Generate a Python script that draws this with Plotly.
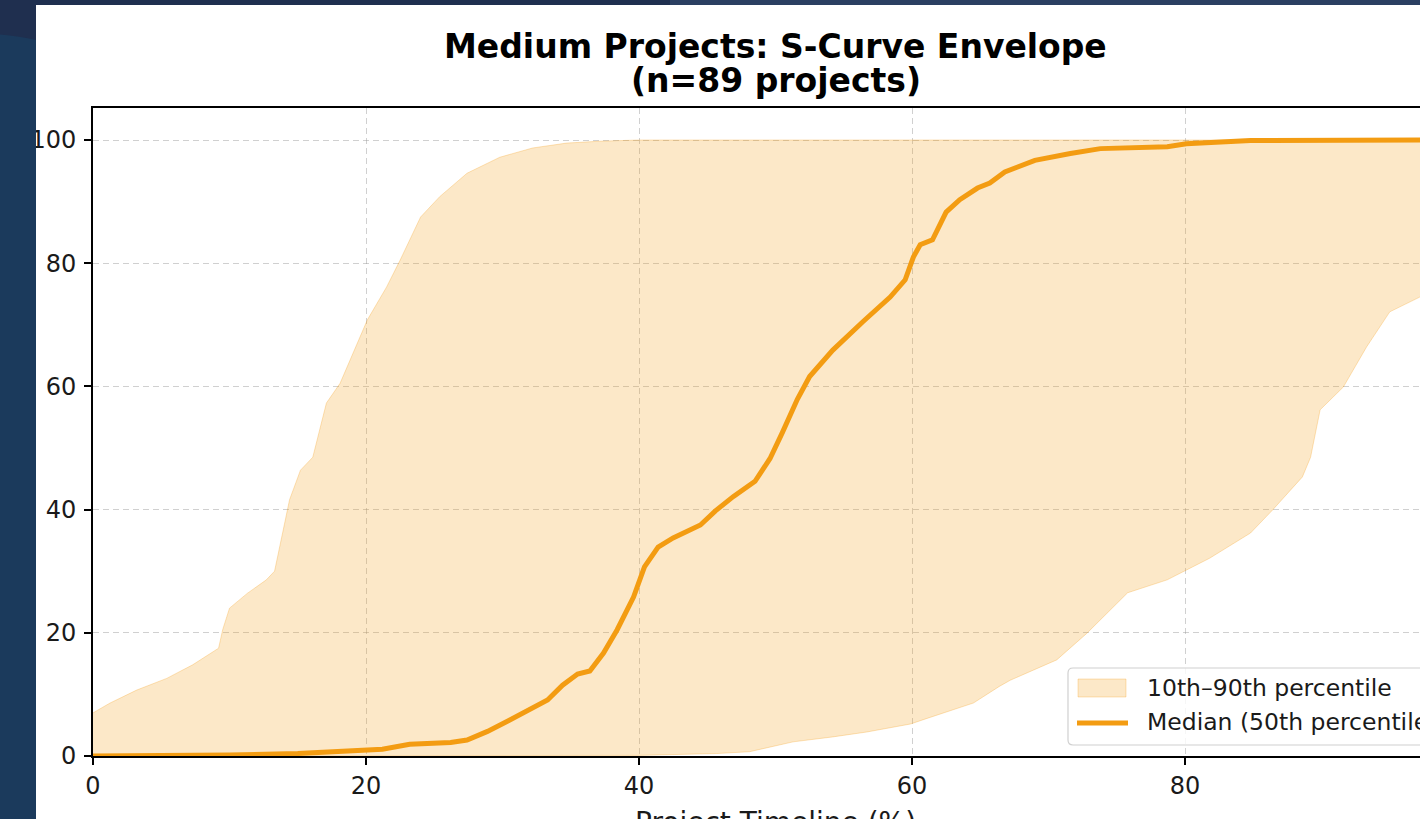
import plotly.graph_objects as go

# Timeline positions (% of project) and cumulative progress (%) for each curve
median_x = [0, 5, 10, 15, 20, 21.2, 23.2, 26.2, 27.4, 28.9, 30.5, 32.2, 33.3, 34.4, 35.5,
            36.4, 37.4, 38.4, 39.6, 40.4, 41.4, 42.5, 44.5, 45.6, 46.9, 48.5, 49.6, 50.5,
            51.6, 52.5, 54.2, 56.4, 58.4, 59.5, 60.1, 60.6, 61.5, 62.5, 63.5, 64.8, 65.7,
            66.8, 67.9, 69.0, 71.6, 73.8, 78.7, 80.1, 84.8, 90, 100]
median_y = [0, 0.05, 0.15, 0.4, 1.0, 1.1, 1.9, 2.2, 2.6, 4.0, 5.8, 7.8, 9.1, 11.5, 13.3,
            13.8, 16.7, 20.5, 25.8, 30.7, 33.9, 35.4, 37.5, 39.8, 42.1, 44.6, 48.3, 52.5,
            57.9, 61.6, 65.9, 70.5, 74.5, 77.3, 81.0, 83.0, 83.8, 88.3, 90.3, 92.2, 93.0,
            94.8, 95.8, 96.7, 97.8, 98.6, 98.9, 99.4, 99.9, 100, 100]

p90_x = [0, 1.25, 3.2, 5.4, 7.3, 9.2, 9.5, 10.0, 11.3, 12.7, 13.3, 14.4, 15.2, 16.1, 17.1,
         18.1, 20.1, 21.5, 22.5, 24.0, 25.4, 27.4, 29.8, 32.2, 34.7, 37.1, 40, 100]
p90_y = [7.0, 8.6, 10.7, 12.6, 14.8, 17.5, 20.5, 24.0, 26.4, 28.6, 30.0, 41.6, 46.4, 48.5,
         57.3, 60.5, 70.8, 76.1, 80.5, 87.5, 90.8, 94.6, 97.2, 98.7, 99.5, 99.8, 100, 100]

p10_x = [0, 40, 45.7, 48.1, 49.4, 51.3, 54.2, 56.7, 59.9, 61.1, 64.5, 66.4, 67.2, 70.6,
         72.8, 75.8, 78.7, 81.8, 84.8, 86.4, 88.6, 89.2, 89.9, 91.6, 93.3, 95.0, 97.2, 100]
p10_y = [0, 0.1, 0.4, 0.7, 1.3, 2.3, 3.1, 3.9, 5.2, 6.1, 8.6, 11.3, 12.3, 15.6, 19.9, 26.5,
         28.6, 32.1, 36.2, 39.9, 45.3, 48.5, 56.2, 59.9, 66.4, 72.1, 74.5, 77.0]

x_ticks = [0, 20, 40, 60, 80, 100]
y_ticks = [0, 20, 40, 60, 80, 100]

TITLE = "Medium Projects: S-Curve Envelope"
SUBTITLE = "(n=89 projects)"
X_LABEL = "Project Timeline (%)"
BAND_LABEL = "10th–90th percentile"
MEDIAN_LABEL = "Median (50th percentile)"

ORANGE = "#f39c12"
BAND_FILL = "rgba(243,156,18,0.23)"
BAND_EDGE = "rgba(243,156,18,0.28)"
FONT = "DejaVu Sans"

W, H = 1420, 819
L, T, B = 93, 108, 63
PW, PH = W - L, H - T - B


def px(xp):
    return (xp - L) / PW


def py(yp):
    return (H - B - yp) / PH


fig = go.Figure()

# 10th-90th percentile envelope as one closed polygon
fig.add_trace(go.Scatter(
    x=p90_x + p10_x[::-1], y=p90_y + p10_y[::-1],
    fill="toself", fillcolor=BAND_FILL, mode="lines",
    line=dict(color=BAND_EDGE, width=1), hoverinfo="skip", showlegend=False))

fig.add_trace(go.Scatter(
    x=median_x, y=median_y, mode="lines",
    line=dict(color=ORANGE, width=5), showlegend=False))

axis_common = dict(
    showline=True, linecolor="black", linewidth=1.8,
    ticks="outside", ticklen=7, tickwidth=1.8, tickcolor="black",
    showgrid=True, gridcolor="rgba(150,150,150,0.45)", griddash="6px,4px", gridwidth=1,
    zeroline=False, tickfont=dict(family=FONT, size=24, color="#1a1a1a"),
)

fig.update_xaxes(range=[0, PW / 13.65], tickvals=x_ticks, mirror=True,
                 ticklabelstandoff=0, **axis_common)
fig.update_yaxes(range=[0, PH / 6.16], tickvals=y_ticks, mirror=False,
                 ticklabelstandoff=3, **axis_common)

annotations = [
    dict(text=f"<b>{TITLE}</b>", x=50, xref="x", y=py(46), yref="paper",
         showarrow=False, xanchor="center", yanchor="middle",
         font=dict(family=FONT, size=33, color="black")),
    dict(text=f"<b>{SUBTITLE}</b>", x=50, xref="x", y=py(80), yref="paper",
         showarrow=False, xanchor="center", yanchor="middle",
         font=dict(family=FONT, size=33, color="black")),
    dict(text=X_LABEL, x=50, xref="x", y=py(822), yref="paper",
         showarrow=False, xanchor="center", yanchor="middle",
         font=dict(family=FONT, size=28, color="#1a1a1a")),
    dict(text=BAND_LABEL, x=px(1145), xref="paper", y=py(688), yref="paper",
         showarrow=False, xanchor="left", yanchor="middle",
         font=dict(family=FONT, size=23.5, color="#1a1a1a")),
    dict(text=MEDIAN_LABEL, x=px(1145), xref="paper", y=py(722), yref="paper",
         showarrow=False, xanchor="left", yanchor="middle",
         font=dict(family=FONT, size=23.5, color="#1a1a1a")),
]

# Legend frame with rounded left corners
r = 5
lx0, lx1, ly0, ly1 = 1068, 1460, 668, 745
frame = (f"M {px(lx1)},{py(ly0)} L {px(lx0 + r)},{py(ly0)} "
         f"Q {px(lx0)},{py(ly0)} {px(lx0)},{py(ly0 + r)} "
         f"L {px(lx0)},{py(ly1 - r)} Q {px(lx0)},{py(ly1)} {px(lx0 + r)},{py(ly1)} "
         f"L {px(lx1)},{py(ly1)} Z")

shapes = [
    dict(type="path", path=frame, xref="paper", yref="paper", layer="above",
         fillcolor="rgba(255,255,255,0.8)", line=dict(color="#d0d0d0", width=1.2)),
    dict(type="rect", xref="paper", yref="paper", layer="above",
         x0=px(1078), x1=px(1126), y0=py(679), y1=py(697),
         fillcolor=BAND_FILL, line=dict(color=BAND_EDGE, width=1)),
    dict(type="line", xref="paper", yref="paper", layer="above",
         x0=px(1077), x1=px(1128), y0=py(723), y1=py(723),
         line=dict(color=ORANGE, width=5)),
    # slide backdrop framing the chart panel
    dict(type="rect", xref="paper", yref="paper", layer="above",
         x0=px(-5), x1=px(36), y0=py(-5), y1=py(H + 5),
         fillcolor="#1b3a5c", line=dict(width=0)),
    dict(type="rect", xref="paper", yref="paper", layer="above",
         x0=px(-5), x1=px(670), y0=py(-5), y1=py(5),
         fillcolor="#1f2f4f", line=dict(width=0)),
    dict(type="rect", xref="paper", yref="paper", layer="above",
         x0=px(670), x1=px(W + 5), y0=py(-5), y1=py(5),
         fillcolor="#2b3f62", line=dict(width=0)),
    dict(type="path", xref="paper", yref="paper", layer="above",
         path=(f"M {px(-5)},{py(-5)} L {px(36)},{py(-5)} L {px(36)},{py(40)} "
               f"Q {px(18)},{py(36)} {px(-5)},{py(34)} Z"),
         fillcolor="#1f2f4f", line=dict(width=0)),
]

fig.update_layout(
    width=W, height=H, autosize=False,
    margin=dict(l=L, r=0, t=T, b=B, pad=0),
    paper_bgcolor="white", plot_bgcolor="white",
    showlegend=False,
    annotations=annotations, shapes=shapes,
)

fig.write_html("out.html")
